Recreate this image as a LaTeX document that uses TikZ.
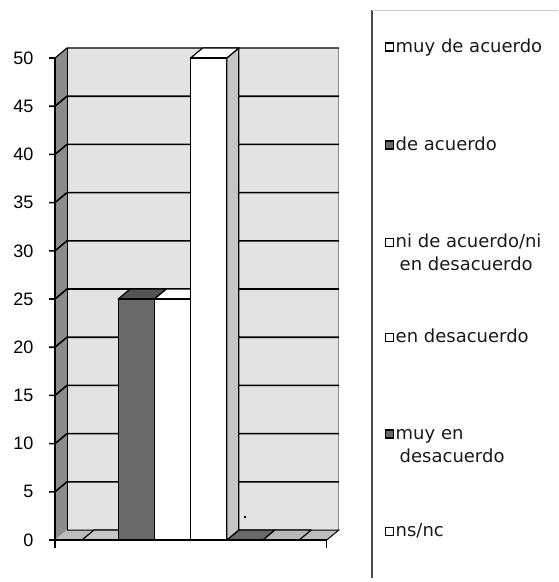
\documentclass[tikz,border=0pt]{standalone}
\usepackage{fontspec}
\setmainfont{Liberation Sans}
\newfontfamily\legendfont{DejaVu Sans}
\usetikzlibrary{positioning}

\definecolor{wallgrey}{HTML}{E3E3E3}
\definecolor{sidegrey}{HTML}{8C8C8C}
\definecolor{bargrey}{HTML}{696969}
\definecolor{facegrey}{HTML}{C6C6C6}
\definecolor{floorgrey}{HTML}{BDBDBD}

\begin{document}
\begin{tikzpicture}[x=1pt, y=-1pt,
	grid/.style={line width=1.6pt},
	face/.style={draw, line width=1.2pt, line join=round},
	lab/.style={anchor=east, font=\fontsize{18}{18}\selectfont},
	key/.style={draw, line width=1.3pt, minimum size=8pt, inner sep=0pt},
	entry/.style={anchor=base west, align=left, inner sep=0pt, text=black!90, font=\legendfont\fontsize{18}{23.5}\selectfont}]
	\useasboundingbox (0,0) rectangle (558,582);
	% back wall and side wall
	\fill[wallgrey] (67,48) rectangle (338.8,530);
	\draw[black!45, line width=.8pt] (338.8,48) -- (338.8,530);
	\fill[sidegrey] (55,58) -- (67,48) -- (67,530) -- (55,540) -- cycle;
	\draw[line width=1.2pt] (55,58) -- (67,48) -- (338.8,48);
	\draw[line width=.8pt] (67,48) -- (67,530);
	\draw[grid] (49,491.8) -- (55,491.8) -- (67,481.8) -- (338.8,481.8);
	\draw[grid] (49,443.6) -- (55,443.6) -- (67,433.6) -- (338.8,433.6);
	\draw[grid] (49,395.4) -- (55,395.4) -- (67,385.4) -- (338.8,385.4);
	\draw[grid] (49,347.2) -- (55,347.2) -- (67,337.2) -- (338.8,337.2);
	\draw[grid] (49,299.0) -- (55,299.0) -- (67,289.0) -- (338.8,289.0);
	\draw[grid] (49,250.8) -- (55,250.8) -- (67,240.8) -- (338.8,240.8);
	\draw[grid] (49,202.6) -- (55,202.6) -- (67,192.6) -- (338.8,192.6);
	\draw[grid] (49,154.4) -- (55,154.4) -- (67,144.4) -- (338.8,144.4);
	\draw[grid] (49,106.2) -- (55,106.2) -- (67,96.2) -- (338.8,96.2);
	\draw[grid] (49,58) -- (55,58);
	% floor and the bars at zero
	\fill[floorgrey] (55,540) -- (67,530) -- (338.8,530) -- (326.8,540) -- cycle;
	\draw[line width=1pt] (67,530) -- (338.8,530) -- (326.8,540);
	\draw[face, fill=black!22] (82,540) -- (94,530) -- (130.2,530) -- (118.2,540) -- cycle;
	\draw[face, fill=bargrey] (226.8,540) -- (238.8,530) -- (275,530) -- (263,540) -- cycle;
	\draw[face, fill=black!28] (263,540) -- (275,530) -- (311.2,530) -- (299.2,540) -- cycle;
	% bars
	\draw[face, fill=bargrey!80!black] (118.2,299) -- (130.2,289) -- (166.4,289) -- (154.4,299) -- cycle;
	\draw[face, fill=bargrey] (118.2,540) rectangle (154.4,299);
	\draw[face, fill=white] (154.4,299) -- (166.4,289) -- (202.6,289) -- (190.6,299) -- cycle;
	\draw[face, fill=white] (154.4,540) rectangle (190.6,299);
	\draw[face, fill=facegrey] (226.8,58) -- (238.8,48) -- (238.8,530) -- (226.8,540) -- cycle;
	\draw[face, fill=white] (190.6,58) -- (202.6,48) -- (238.8,48) -- (226.8,58) -- cycle;
	\draw[face, fill=white] (190.6,540) rectangle (226.8,58);
	\fill (245,517) circle (1.3);
	% axes
	\draw[line width=1.2pt] (55,58) -- (55,548);
	\draw[line width=1.2pt] (49,540) -- (326.8,540) -- (326.8,548);
	\node[lab] (l0) at (37,540) {0};
	\node[lab] (l5) at (37,491.8) {5};
	\node[lab] (l10) at (37,443.6) {10};
	\node[lab] (l15) at (37,395.4) {15};
	\node[lab] (l20) at (37,347.2) {20};
	\node[lab] (l25) at (37,299) {25};
	\node[lab] (l30) at (37,250.8) {30};
	\node[lab] (l35) at (37,202.6) {35};
	\node[lab] (l40) at (37,154.4) {40};
	\node[lab] (l45) at (37,106.2) {45};
	\node[lab] (l50) at (37,58) {50};
	% legend
	\draw[black!70, line width=1.5pt] (372,10) -- (372,578);
	\draw[black!20] (372,10) -- (558,10);
	\node[key, fill=white] (k1) at (389.5,47) {};
	\node[entry] (e1) at (395.5,52.5) {muy de acuerdo};
	\node[key, fill=bargrey] (k2) at (389.5,145) {};
	\node[entry] (e2) at (395.5,150) {de acuerdo};
	\node[key, fill=white] (k3) at (389.5,242.5) {};
	\node[entry] (e3) at (395.5,270.5) {ni de acuerdo/ni\\\hspace{4pt}en desacuerdo};
	\node[key, fill=white] (k4) at (389.5,337.5) {};
	\node[entry] (e4) at (395.5,342) {en desacuerdo};
	\node[key, fill=bargrey] (k5) at (389.5,434) {};
	\node[entry] (e5) at (395.5,462.5) {muy en\\\hspace{4pt}desacuerdo};
	\node[key, fill=white] (k6) at (389.5,531.5) {};
	\node[entry] (e6) at (395.5,536) {ns/nc};
\end{tikzpicture}
\end{document}
